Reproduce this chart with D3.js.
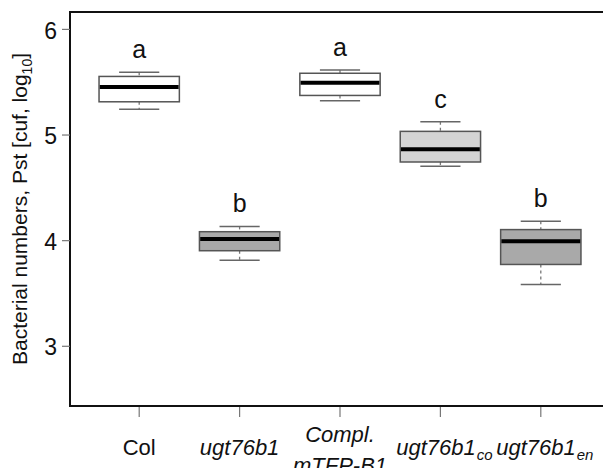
<!DOCTYPE html>
<html>
<head>
<meta charset="utf-8">
<script src="https://cdn.jsdelivr.net/npm/d3@7"></script>
<style>
  html, body { margin: 0; padding: 0; background: #fff; }
  svg { display: block; font-family: "Liberation Sans", Arial, sans-serif; }
</style>
</head>
<body>
<svg id="chart" width="603" height="468"></svg>
<script>
// ---- data ----
const categories   = ["Col", "ugt76b1", "Compl", "ugt76b1co", "ugt76b1en"];
const whiskerHigh  = [5.59, 4.13, 5.61, 5.12, 4.18];
const q3           = [5.55, 4.08, 5.58, 5.03, 4.10];
const medians      = [5.45, 4.01, 5.49, 4.86, 3.99];
const q1           = [5.31, 3.90, 5.37, 4.74, 3.77];
const whiskerLow   = [5.24, 3.81, 5.32, 4.70, 3.58];
const sigLetters   = ["a", "b", "a", "c", "b"];
const yTicks       = [3, 4, 5, 6];
const xLabelMain   = [["Col"], ["ugt76b1"], ["Compl.", "mTFP-B1"], ["ugt76b1"], ["ugt76b1"]];
const xLabelSub    = ["", "", "", "co", "en"];
const xLabelItalic = [false, true, true, true, true];

// ---- styles ----
const fills = ["#ffffff", "#a9a9a9", "#ffffff", "#d4d4d4", "#a9a9a9"];

const svg = d3.select("#chart");
const mLeft = 70, mTop = 12, mBottom = 406, mRight = 603;

const x = d3.scaleBand().domain(categories).range([89, 591]).paddingInner(0.2).paddingOuter(0.1);
const y = d3.scaleLinear().domain([2.43, 6.16]).range([mBottom, mTop]);

const data = categories.map((c, i) => ({
  c, i, lo: whiskerLow[i], q1: q1[i], med: medians[i], q3: q3[i], hi: whiskerHigh[i], letter: sigLetters[i]
}));

// frame lines (top, bottom)
svg.append("line").attr("x1", mLeft).attr("x2", mRight).attr("y1", mTop).attr("y2", mTop)
  .attr("stroke", "#111").attr("stroke-width", 2);
svg.append("line").attr("x1", mLeft).attr("x2", mRight).attr("y1", mBottom).attr("y2", mBottom)
  .attr("stroke", "#111").attr("stroke-width", 2);

// y axis
const yAxis = d3.axisLeft(y).tickValues(yTicks).tickSize(8).tickPadding(5).tickFormat(d3.format("d"));
const gy = svg.append("g").attr("transform", `translate(${mLeft},0)`).call(yAxis);
gy.select(".domain").attr("d", `M0,${mTop - 1}V${mBottom + 1}`).attr("stroke", "#111").attr("stroke-width", 2);
gy.selectAll(".tick line").attr("stroke", "#777").attr("stroke-width", 1.2);
gy.selectAll(".tick text").attr("font-size", 23).attr("fill", "#111")
  .attr("font-family", "Liberation Sans, Arial, sans-serif").attr("dy", "0.40em");

// x axis ticks
const xAxis = d3.axisBottom(x).tickSize(10).tickFormat("");
const gx = svg.append("g").attr("transform", `translate(0,${mBottom + 1})`).call(xAxis);
gx.select(".domain").remove();
gx.selectAll(".tick line").attr("stroke", "#777").attr("stroke-width", 1.2);

// x labels
const cx = d => x(d) + x.bandwidth() / 2;
categories.forEach((c, i) => {
  const lines = xLabelMain[i];
  const baselines = lines.length === 1 ? [455] : [441.5, 473];
  lines.forEach((ln, j) => {
    const t = svg.append("text")
      .attr("x", cx(c) + (xLabelSub[i] ? 4 : 0)).attr("y", baselines[j])
      .attr("text-anchor", "middle")
      .attr("font-size", 22)
      .attr("fill", "#111")
      .attr("font-style", xLabelItalic[i] ? "italic" : "normal");
    t.append("tspan").text(ln);
    if (xLabelSub[i] && j === lines.length - 1) {
      t.append("tspan").attr("font-size", 15).attr("dy", 5).attr("dx", 1).text(xLabelSub[i]);
    }
  });
});

// y title
const yt = svg.append("text")
  .attr("transform", `translate(27,${(mTop + mBottom) / 2}) rotate(-90)`)
  .attr("text-anchor", "middle")
  .attr("font-size", 21)
  .attr("fill", "#111");
yt.append("tspan").text("Bacterial numbers, Pst [cuf, log");
yt.append("tspan").attr("font-size", 14).attr("dy", 5).text("10");
yt.append("tspan").attr("dy", -5).text("]");

// boxes
const bw = x.bandwidth();
const g = svg.append("g").selectAll("g.box").data(data).join("g").attr("class", "box");

// whiskers (dashed)
g.append("line").attr("x1", d => cx(d.c)).attr("x2", d => cx(d.c))
  .attr("y1", d => y(d.hi)).attr("y2", d => y(d.q3))
  .attr("stroke", "#777").attr("stroke-width", 1.3).attr("stroke-dasharray", "3,3");
g.append("line").attr("x1", d => cx(d.c)).attr("x2", d => cx(d.c))
  .attr("y1", d => y(d.q1)).attr("y2", d => y(d.lo))
  .attr("stroke", "#777").attr("stroke-width", 1.3).attr("stroke-dasharray", "3,3");
// caps
g.append("line").attr("x1", d => cx(d.c) - bw / 4).attr("x2", d => cx(d.c) + bw / 4)
  .attr("y1", d => y(d.hi)).attr("y2", d => y(d.hi))
  .attr("stroke", "#666").attr("stroke-width", 1.5);
g.append("line").attr("x1", d => cx(d.c) - bw / 4).attr("x2", d => cx(d.c) + bw / 4)
  .attr("y1", d => y(d.lo)).attr("y2", d => y(d.lo))
  .attr("stroke", "#666").attr("stroke-width", 1.5);
// box
g.append("rect").attr("x", d => x(d.c)).attr("width", bw)
  .attr("y", d => y(d.q3)).attr("height", d => y(d.q1) - y(d.q3))
  .attr("fill", d => fills[d.i]).attr("stroke", "#555").attr("stroke-width", 1.5);
// median
g.append("line").attr("x1", d => x(d.c) + 0.75).attr("x2", d => x(d.c) + bw - 0.75)
  .attr("y1", d => y(d.med)).attr("y2", d => y(d.med))
  .attr("stroke", "#000").attr("stroke-width", 4);
// letters
g.append("text").attr("x", d => cx(d.c)).attr("y", d => y(d.hi) - 14)
  .attr("text-anchor", "middle").attr("font-size", 25).attr("fill", "#111")
  .text(d => d.letter);
</script>
</body>
</html>
